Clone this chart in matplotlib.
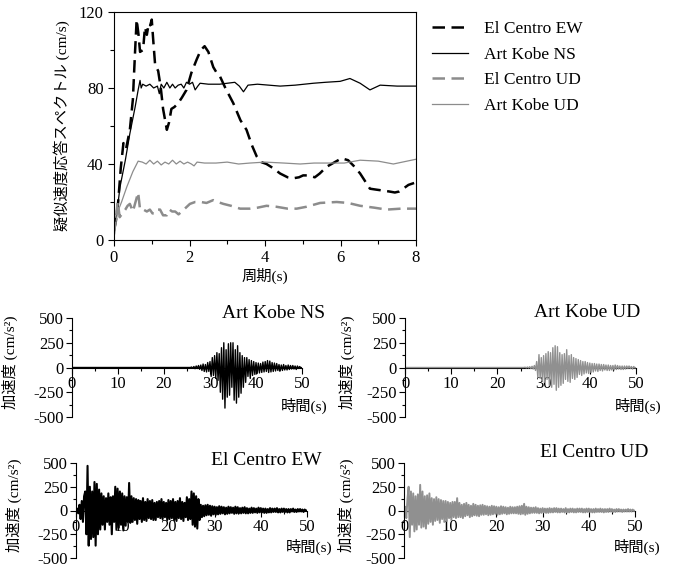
import numpy as np
import matplotlib
matplotlib.use("Agg")
import matplotlib.pyplot as plt
from matplotlib.ticker import MultipleLocator

plt.rcParams['font.family'] = ['Liberation Serif', 'Noto Sans CJK JP']
plt.rcParams['axes.unicode_minus'] = False

# --- response spectra (period s, pseudo velocity cm/s) ---
ec_ew_T = [0, 0.05, 0.11, 0.18, 0.25, 0.32, 0.42, 0.5, 0.56, 0.6, 0.65, 0.69, 0.77, 0.82, 0.87,
           0.92, 0.96, 1.0, 1.04, 1.09, 1.17, 1.24, 1.3, 1.4, 1.46, 1.52, 1.6, 1.7, 1.8, 1.92,
           2.05, 2.19, 2.3, 2.4, 2.5, 2.63, 2.72, 2.81, 2.95, 3.16, 3.35, 3.51, 3.65, 3.78, 3.9,
           4.04, 4.2, 4.4, 4.6, 4.75, 4.9, 5.01, 5.15, 5.32, 5.45, 5.63, 5.85, 6.03, 6.2, 6.35,
           6.52, 6.65, 6.78, 6.95, 7.13, 7.3, 7.44, 7.55, 7.66, 7.8, 7.95]
ec_ew_V = [5, 10, 20, 38, 51, 48, 58, 74, 100, 116, 108, 99, 100, 112, 108,
           114, 113, 116, 105, 92, 89, 80, 69, 58, 62, 69, 70, 72, 75, 79,
           88, 95, 100, 102, 99, 91, 88, 86, 80, 72, 63, 58, 50, 44, 41,
           40, 38, 35, 33, 32.5, 33, 34, 34, 33, 35, 38.5, 41, 43, 42, 39,
           35, 31, 27, 26.5, 26, 25.5, 25, 25.5, 27, 29, 30]

kb_ns_T = [0, 0.08, 0.16, 0.3, 0.42, 0.56, 0.64, 0.69, 0.72, 0.76, 0.85, 0.95, 1.05, 1.15, 1.2,
           1.25, 1.32, 1.4, 1.48, 1.55, 1.62, 1.7, 1.78, 1.85, 1.92, 2.0, 2.08, 2.15, 2.22, 2.28,
           2.5, 2.8, 3.0, 3.2, 3.32, 3.43, 3.55, 3.8, 4.1, 4.4, 4.8, 5.28, 5.6, 5.99, 6.25,
           6.52, 6.78, 7.05, 7.5, 8.0]
kb_ns_V = [5, 15, 28, 42, 56, 70, 79, 84, 80, 82, 81, 82, 80, 81, 77,
           82, 80, 83, 80, 82, 80, 81.5, 82, 80, 83, 82, 83, 79, 81, 82.5,
           82, 82, 82.5, 83, 81, 78, 81.5, 82, 81.5, 81, 81.5, 82.5, 83, 83.5, 85,
           82.5, 79, 81.5, 81, 81]

ec_ud_T = [0, 0.05, 0.1, 0.15, 0.22, 0.3, 0.36, 0.42, 0.5, 0.57, 0.64, 0.69, 0.78, 0.87, 0.95,
           1.02, 1.09, 1.15, 1.22, 1.3, 1.4, 1.47, 1.54, 1.62, 1.71, 1.85, 2.01, 2.15, 2.3, 2.45,
           2.63, 2.75, 2.9, 3.1, 3.34, 3.6, 3.8, 4.04, 4.3, 4.6, 4.84, 5.1, 5.46, 5.9, 6.2,
           6.52, 6.9, 7.22, 7.6, 8.0]
ec_ud_V = [3, 12, 20, 12, 14, 16, 18, 19, 15, 20, 25, 16, 16, 15, 16,
           14, 14, 16, 16, 13, 13, 16, 15, 15, 13.5, 16, 19, 20, 20, 19.5,
           21, 20, 19, 18, 16.5, 16.5, 17, 18, 17.5, 16.5, 16.5, 17.5, 19.5, 20, 19.5,
           18, 17, 16, 16.5, 16.5]

kb_ud_T = [0, 0.1, 0.2, 0.34, 0.5, 0.64, 0.75, 0.85, 0.95, 1.05, 1.15, 1.25, 1.35, 1.45, 1.55,
           1.65, 1.75, 1.85, 1.95, 2.05, 2.12, 2.2, 2.4, 2.7, 3.0, 3.3, 3.6, 4.0, 4.5, 4.93,
           5.3, 5.7, 6.1, 6.52, 7.0, 7.4, 8.0]
kb_ud_V = [3, 15, 20, 28, 36, 41.5, 41, 40, 42, 40, 41.5, 39.5, 41, 40, 42,
           40, 41.5, 40, 41, 40, 39, 41, 40.5, 40.5, 41, 40, 40.5, 41, 40.5, 40,
           40.5, 40.5, 40.5, 42, 41.5, 40, 42.5]

# --- acceleration records, sampled every 0.25 s (cm/s^2) ---
dt = 0.25
ec_ew_acc = [
    0, 20, -30, 60, -90, 100, -120, 150, 200, -250, 470, -370, 250, -300, 200, -280,
    300, -370, 280, -250, 220, -200, 180, -150, 150, -200, 130, -120, 180, -150, 140, -250,
    150, -120, 250, -200, 230, -180, 200, -150, 180, -210, 150, -160, 140, -120, 290, -130,
    150, -120, 130, -100, 120, -140, 110, -90, 100, -120, 130, -100, 90, -110, 120, -80,
    100, -90, 110, -100, 80, -100, 90, -70, 100, -80, 120, -90, 90, -70, 80, -100,
    110, -90, 100, -80, 120, -100, 90, -110, 100, -80, 130, -90, 90, -110, 80, -70,
    140, -100, 120, -90, 200, -150, 180, -170, 150, -190, 120, -100, 60, -70, 50, -60,
    55, -50, 60, -45, 50, -55, 45, -40, 40, -45, 35, -40, 45, -35, 40, -30,
    35, -40, 30, -35, 40, -30, 35, -25, 30, -35, 40, -30, 35, -30, 25, -30,
    30, -25, 35, -30, 25, -30, 20, -25, 30, -25, 25, -20, 20, -25, 30, -20,
    25, -20, 20, -25, 20, -25, 15, -20, 25, -20, 20, -15, 20, -15, 25, -20,
    15, -20, 20, -15, 20, -15, 15, -20, 15, -20, 15, -10, 20, -15, 10, -15,
    15, -10, 15, -10, 10, -15, 10, -5, 0]
ec_ud_acc = [
    0, 40, -80, 120, 250, -280, 200, -150, 180, -220, 150, -200, 170, -150, 270, -180,
    200, -170, 150, -190, 160, -140, 180, -120, 130, -150, 120, -110, 140, -100, 120, -130,
    110, -90, 100, -120, 100, -110, 90, -80, 80, -100, 90, -70, 90, -80, 130, -70,
    80, -70, 60, -80, 70, -60, 80, -50, 60, -70, 50, -60, 70, -50, 60, -55,
    50, -60, 55, -45, 60, -45, 50, -40, 45, -50, 40, -45, 50, -40, 45, -35,
    40, -45, 35, -40, 45, -35, 40, -30, 35, -40, 30, -35, 40, -30, 35, -30,
    35, -30, 40, -35, 45, -40, 50, -35, 70, -45, 40, -35, 35, -30, 30, -25,
    30, -25, 35, -25, 25, -30, 20, -25, 25, -20, 20, -25, 20, -25, 25, -20,
    20, -20, 25, -15, 25, -20, 20, -20, 20, -15, 15, -20, 25, -20, 15, -20,
    20, -15, 20, -20, 15, -20, 20, -15, 20, -15, 20, -20, 15, -20, 20, -15,
    20, -15, 15, -20, 15, -20, 20, -15, 15, -15, 20, -15, 15, -20, 15, -15,
    15, -15, 20, -10, 15, -15, 10, -15, 15, -10, 15, -10, 10, -15, 10, -10,
    10, -10, 15, -10, 10, -10, 10, -5, 0]
kb_ns_quiet = 104   # samples of ~zero motion before 26 s
kb_ns_acc = [
    5, -8, 10, -12, 15, -10, 20, -18, 25, -30, 35, -40, 30, -45, 50, -40,
    60, -90, 100, -80, 120, -110, 150, -130, 140, -250, 200, -320, 250, -410, 180, -300,
    240, -280, 250, -200, 250, -330, 180, -360, 220, -300, 150, -260, 120, -200, 100, -150,
    100, -90, 80, -110, 70, -80, 60, -70, 50, -60, 45, -55, 40, -50, 55, -45,
    60, -40, 70, -50, 65, -45, 50, -40, 45, -35, 40, -30, 30, -35, 25, -30,
    30, -25, 20, -25, 25, -20, 20, -15, 20, -15, 15, -20, 15, -10, 10, -5, 0]
kb_ud_quiet = 104
kb_ud_acc = [
    3, -4, 5, -5, 8, -10, 12, -15, 20, -30, 60, -100, 130, -110, 100, -140,
    120, -150, 140, -120, 160, -180, 150, -200, 200, -170, 220, -230, 210, -200, 150, -180,
    130, -160, 140, -120, 180, -140, 120, -150, 130, -110, 100, -120, 90, -100, 80, -70,
    70, -80, 60, -65, 60, -55, 50, -60, 45, -50, 40, -45, 40, -35, 35, -40,
    35, -30, 30, -35, 30, -25, 25, -30, 25, -30, 20, -25, 20, -25, 25, -20,
    20, -15, 15, -20, 15, -20, 15, -15, 15, -10, 15, -10, 10, -15, 10, -5, 0]

W, H = 675, 568
fig = plt.figure(figsize=(W / 100, H / 100), dpi=100)


def px_axes(x0, x1, ytop, ybot):
    return fig.add_axes([x0 / W, 1 - ybot / H, (x1 - x0) / W, (ybot - ytop) / H])


# ---------- spectrum ----------
ax = px_axes(114, 416, 12, 240)
ax.plot(ec_ew_T, ec_ew_V, color='black', lw=1.8, dashes=(5, 2.6), label='El Centro EW')
ax.plot(kb_ns_T, kb_ns_V, color='black', lw=0.9, label='Art Kobe NS')
ax.plot(ec_ud_T, ec_ud_V, color='#8c8c8c', lw=1.8, dashes=(5, 2.6), label='El Centro UD')
ax.plot(kb_ud_T, kb_ud_V, color='#8c8c8c', lw=0.9, label='Art Kobe UD')
ax.set_xlim(0, 8)
ax.set_ylim(0, 120)
ax.xaxis.set_major_locator(MultipleLocator(2))
ax.xaxis.set_minor_locator(MultipleLocator(1))
ax.yaxis.set_major_locator(MultipleLocator(40))
ax.yaxis.set_minor_locator(MultipleLocator(20))
ax.tick_params(which='both', direction='out', labelsize=12, width=0.8)
ax.tick_params(which='major', length=4)
ax.tick_params(which='minor', length=3)
for s in ax.spines.values():
    s.set_linewidth(0.8)
ax.set_xlabel('周期(s)', fontsize=11, labelpad=1)
ax.set_ylabel('疑似速度応答スペクトル (cm/s)', fontsize=11)
ax.yaxis.set_label_coords(-0.145, 0.5)
ax.legend(loc='upper left', bbox_to_anchor=(1.0, 1.03), frameon=False, fontsize=12.5,
          handlelength=2.1, handletextpad=0.9, labelspacing=0.55)

# ---------- acceleration records ----------
panels = [
    (72, 302, 318, 417, kb_ns_quiet, kb_ns_acc, 'black', 1.0, 'Art Kobe NS', 1.1, 1.05, -0.235),
    (405, 636, 318, 417, kb_ud_quiet, kb_ud_acc, '#909090', 1.0, 'Art Kobe UD', 1.017, 1.06, -0.216),
    (76, 307, 463, 558, 0, ec_ew_acc, 'black', 1.5, 'El Centro EW', 1.065, 1.03, -0.234),
    (404, 635, 463, 558, 0, ec_ud_acc, '#909090', 1.4, 'El Centro UD', 1.056, 1.115, -0.216),
]
for x0, x1, yt, yb, quiet, acc, col, lw, name, tx, ty, lx in panels:
    a = px_axes(x0, x1, yt, yb)
    vals = np.concatenate([np.zeros(quiet), np.array(acc, dtype=float)])
    t = np.arange(len(vals)) * dt
    a.plot(t, vals, color=col, lw=lw)
    a.set_xlim(0, 50)
    a.set_ylim(-500, 500)
    a.spines['top'].set_visible(False)
    a.spines['right'].set_visible(False)
    a.spines['bottom'].set_position(('data', 0))
    a.spines['bottom'].set_zorder(0)
    for s in a.spines.values():
        s.set_linewidth(0.8)
    a.xaxis.set_major_locator(MultipleLocator(10))
    a.xaxis.set_minor_locator(MultipleLocator(5))
    a.yaxis.set_major_locator(MultipleLocator(250))
    a.yaxis.set_minor_locator(MultipleLocator(125))
    a.tick_params(which='both', direction='out', labelsize=12, width=0.8, pad=2)
    a.tick_params(which='major', length=4)
    a.tick_params(which='minor', length=2.5)
    a.set_ylabel('加速度 (cm/s²)', fontsize=11)
    a.yaxis.set_label_coords(lx, 0.55)
    a.text(tx, ty, name, transform=a.transAxes, ha='right', va='center', fontsize=14)
    a.text(1.01, 0.115, '時間(s)', transform=a.transAxes, ha='center', va='center', fontsize=11)

fig.savefig('out.png', dpi=100)
